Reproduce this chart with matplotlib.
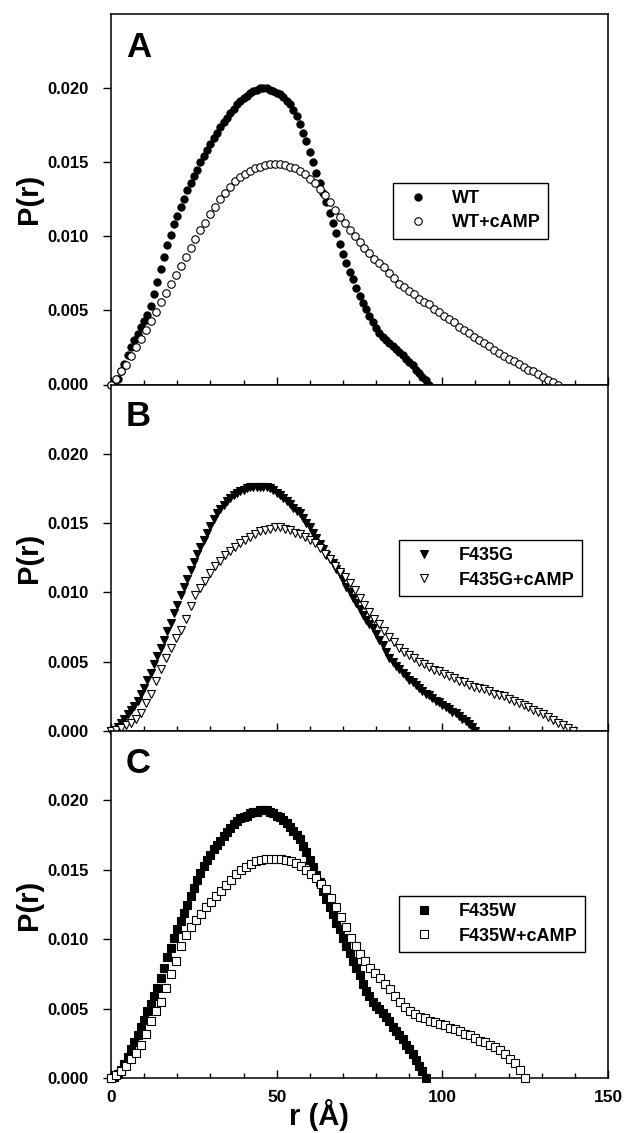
import numpy as np
import matplotlib
matplotlib.use("Agg")
import matplotlib.pyplot as plt
from matplotlib.ticker import MultipleLocator, FormatStrFormatter

plt.rcParams['font.family'] = ['Liberation Sans', 'DejaVu Sans']
plt.rcParams['font.weight'] = 'bold'

# ---- data: P(r) values in units of 1e-4, evenly sampled from r=0 to Dmax ----
wt_dmax = 96.0
wt = [0, 1, 4, 9, 14, 20, 25, 30, 34, 39, 43, 47, 53, 61, 69, 78, 86, 94, 101,
      108, 114, 120, 125, 131, 136, 141, 145, 150, 154, 158, 162, 166, 170, 174,
      177, 180, 183, 186, 189, 191, 193, 195, 197, 198, 199, 200, 200, 200, 199,
      198, 197, 196, 194, 191, 189, 185, 181, 176, 170, 164, 157, 150, 143, 136,
      129, 123, 116, 109, 102, 95, 88, 82, 76, 71, 65, 60, 55, 51, 46, 42, 38,
      35, 32, 30, 28, 26, 24, 22, 20, 17, 15, 13, 10, 8, 5, 3, 0]

wt_camp_dmax = 135.0
wt_camp = [0, 4, 9, 13, 19, 25, 31, 37, 43, 49, 56, 62, 68, 74, 80, 86, 92, 98,
           104, 109, 115, 120, 125, 129, 133, 137, 140, 142, 144, 146, 147, 148,
           149, 149, 149, 148, 147, 146, 144, 142, 139, 136, 132, 128, 123, 118,
           113, 109, 104, 100, 96, 92, 89, 85, 82, 79, 75, 72, 68, 66, 63, 61, 58,
           56, 54, 51, 49, 46, 44, 42, 39, 37, 35, 32, 30, 28, 26, 23, 21, 19, 17,
           16, 14, 12, 10, 9, 7, 5, 3, 2, 0]

g_dmax = 110.0
f435g = [0, 1, 3, 6, 9, 12, 15, 18, 22, 27, 31, 37, 42, 48, 54, 60, 66, 72, 78,
         85, 91, 98, 104, 110, 116, 122, 128, 133, 138, 143, 148, 153, 157, 160,
         163, 166, 168, 170, 172, 173, 174, 175, 176, 176, 176, 176, 176, 176, 175,
         174, 172, 170, 168, 166, 164, 161, 159, 157, 154, 150, 147, 143, 139, 135,
         131, 127, 124, 121, 117, 113, 109, 104, 100, 96, 92, 88, 84, 80, 77, 74,
         70, 66, 62, 57, 53, 50, 47, 45, 42, 40, 37, 35, 33, 31, 29, 27, 26, 24,
         22, 21, 19, 17, 16, 14, 13, 11, 9, 7, 5, 3, 0]

g_camp_dmax = 139.5
f435g_camp = [0, 1, 2, 4, 6, 9, 13, 20, 27, 36, 45, 53, 60, 67, 73, 81, 90, 98,
              103, 108, 114, 119, 123, 127, 130, 133, 136, 138, 140, 142, 144, 145,
              146, 147, 147, 146, 145, 143, 142, 140, 138, 136, 132, 128, 124, 119,
              115, 111, 107, 102, 96, 91, 86, 81, 77, 72, 68, 64, 60, 57, 55, 53,
              50, 48, 46, 44, 43, 41, 40, 38, 36, 35, 33, 32, 31, 30, 29, 27, 26,
              25, 23, 22, 20, 19, 17, 15, 14, 12, 10, 8, 6, 4, 2, 0]

w_dmax = 95.0
f435w = [0, 1, 3, 6, 10, 15, 21, 26, 31, 37, 42, 48, 53, 59, 65, 72, 79, 87, 94,
         101, 107, 113, 119, 125, 131, 137, 143, 148, 153, 157, 161, 165, 168, 171,
         174, 177, 180, 183, 185, 187, 188, 189, 191, 192, 192, 193, 193, 193, 192,
         191, 189, 188, 186, 184, 181, 178, 175, 172, 167, 163, 157, 152, 146, 141,
         135, 129, 123, 118, 112, 107, 101, 95, 90, 84, 79, 74, 68, 63, 59, 55, 52,
         50, 47, 44, 41, 37, 34, 31, 28, 24, 21, 17, 13, 9, 5, 0]

w_camp_dmax = 125.0
f435w_camp = [0, 2, 5, 9, 14, 18, 24, 32, 41, 48, 55, 65, 75, 84, 95, 103, 109,
              114, 118, 123, 127, 131, 135, 139, 143, 147, 150, 152, 154, 156, 157,
              158, 158, 158, 158, 157, 156, 155, 153, 150, 147, 144, 140, 136, 130,
              123, 116, 109, 101, 95, 89, 84, 79, 76, 72, 68, 64, 59, 55, 51, 48,
              46, 44, 43, 41, 40, 39, 38, 36, 35, 34, 32, 31, 29, 27, 26, 24, 22,
              20, 17, 14, 11, 6, 0]

panels = [
    ("A", [("WT", wt, wt_dmax, 'o', 'black', 5.2),
           ("WT+cAMP", wt_camp, wt_camp_dmax, 'o', 'white', 5.4)]),
    ("B", [("F435G", f435g, g_dmax, 'v', 'black', 6.0),
           ("F435G+cAMP", f435g_camp, g_camp_dmax, 'v', 'white', 6.0)]),
    ("C", [("F435W", f435w, w_dmax, 's', 'black', 5.6),
           ("F435W+cAMP", f435w_camp, w_camp_dmax, 's', 'white', 5.6)]),
]

W, H = 626, 1133
fig = plt.figure(figsize=(W / 100, H / 100), dpi=100)

left, right = 111, 608
bounds = [(14, 384.5), (384.5, 731), (731, 1078)]
legend_anchor = [(0.567, 0.544), (0.5795, 0.551), (0.5795, 0.524)]

axes = []
for i, ((letter, series), (top, bot)) in enumerate(zip(panels, bounds)):
    ax = fig.add_axes([left / W, (H - bot) / H, (right - left) / W, (bot - top) / H])
    axes.append(ax)
    for label, vals, dmax, mk, fc, ms in series:
        p = np.array(vals, dtype=float) * 1e-4
        r = np.linspace(0, dmax, len(p))
        ax.plot(r, p, linestyle='none', marker=mk, markersize=ms,
                markerfacecolor=fc, markeredgecolor='black', markeredgewidth=0.8,
                label=label, clip_on=False, zorder=3)
    ax.set_xlim(0, 150)
    ax.set_ylim(0, 0.025)
    ax.xaxis.set_major_locator(MultipleLocator(50))
    ax.xaxis.set_minor_locator(MultipleLocator(10))
    ax.set_yticks([0, 0.005, 0.010, 0.015, 0.020])
    ax.yaxis.set_major_formatter(FormatStrFormatter('%.3f'))
    ax.tick_params(axis='x', which='major', direction='in', length=6, width=1.0,
                   top=False, labelsize=12.5, pad=9)
    ax.tick_params(axis='x', which='minor', direction='in', length=3.5, width=1.0, top=False)
    ax.tick_params(axis='y', which='major', direction='out', length=6, width=1.0,
                   right=False, labelsize=12, pad=10)
    for s in ax.spines.values():
        s.set_linewidth(1.1)
    for t in ax.get_yticklabels() + ax.get_xticklabels():
        t.set_fontweight('bold')
    if i < 2:
        ax.tick_params(axis='x', labelbottom=False)
    ax.set_ylabel("P(r)", fontsize=21, fontweight='bold')
    ax.yaxis.set_label_coords(-0.137, 0.5)
    ax.text(0.03, 0.955, letter, transform=ax.transAxes, fontsize=25,
            fontweight='bold', va='top', ha='left')
    leg = ax.legend(loc='upper left', bbox_to_anchor=legend_anchor[i],
                    frameon=True, fancybox=False, framealpha=1, edgecolor='black',
                    prop={'weight': 'bold', 'size': 13}, handlelength=2.0,
                    handletextpad=0.9, borderpad=0.4, labelspacing=0.4,
                    borderaxespad=0)
    leg.get_frame().set_linewidth(1.0)

axes[2].set_xlabel("r (Å)", fontsize=21, fontweight='bold', va='baseline')
axes[2].xaxis.set_label_coords(0.418, -0.136)

fig.savefig("out.png", dpi=100)
